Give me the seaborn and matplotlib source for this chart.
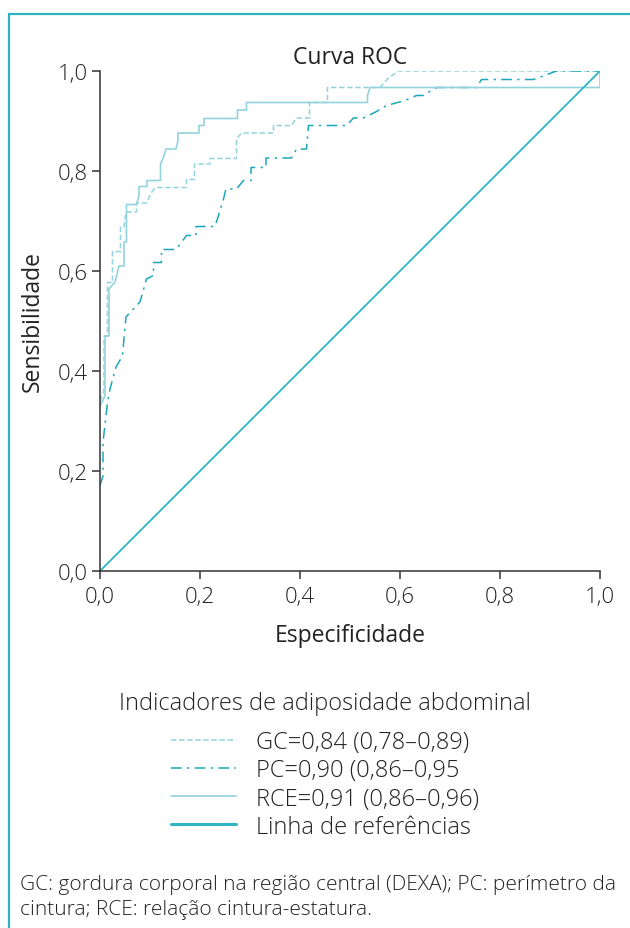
import matplotlib
matplotlib.use("Agg")
import matplotlib.pyplot as plt
import seaborn as sns
import pandas as pd
from matplotlib.lines import Line2D

# curve points (1 - specificity, sensitivity)
gc_x = [0, 0.008, 0.008, 0.015, 0.015, 0.025, 0.025, 0.041, 0.041, 0.048, 0.052, 0.073, 0.073,
        0.093, 0.103, 0.111, 0.173, 0.173, 0.189, 0.189, 0.22, 0.22, 0.273, 0.273, 0.283, 0.347,
        0.347, 0.383, 0.393, 0.419, 0.419, 0.455, 0.455, 0.56, 0.575, 0.597, 1.0]
gc_y = [0.34, 0.36, 0.47, 0.47, 0.577, 0.577, 0.639, 0.639, 0.688, 0.688, 0.718, 0.718, 0.736,
        0.736, 0.757, 0.767, 0.767, 0.783, 0.783, 0.814, 0.814, 0.825, 0.825, 0.864, 0.876, 0.876,
        0.891, 0.891, 0.906, 0.906, 0.937, 0.937, 0.967, 0.967, 0.984, 1.0, 1.0]

pc_x = [0, 0.006, 0.006, 0.015, 0.02, 0.032, 0.045, 0.049, 0.052, 0.08, 0.093, 0.107, 0.107,
        0.123, 0.123, 0.152, 0.173, 0.192, 0.192, 0.23, 0.237, 0.247, 0.252, 0.273, 0.287, 0.302,
        0.302, 0.332, 0.332, 0.383, 0.393, 0.413, 0.417, 0.493, 0.507, 0.527, 0.553, 0.573, 0.61,
        0.633, 0.646, 0.673, 0.753, 0.763, 0.867, 0.897, 0.913, 1.0]
pc_y = [0.171, 0.19, 0.257, 0.337, 0.364, 0.408, 0.43, 0.477, 0.508, 0.538, 0.584, 0.591, 0.617,
        0.617, 0.643, 0.643, 0.671, 0.671, 0.689, 0.689, 0.711, 0.744, 0.764, 0.764, 0.781, 0.781,
        0.807, 0.807, 0.826, 0.826, 0.844, 0.844, 0.891, 0.891, 0.906, 0.906, 0.919, 0.931, 0.941,
        0.951, 0.951, 0.967, 0.967, 0.983, 0.983, 0.994, 1.0, 1.0]

rce_x = [0, 0.01, 0.01, 0.018, 0.018, 0.03, 0.038, 0.048, 0.048, 0.053, 0.053, 0.073, 0.078,
         0.078, 0.094, 0.094, 0.121, 0.121, 0.127, 0.132, 0.152, 0.156, 0.156, 0.198, 0.198, 0.208,
         0.208, 0.275, 0.275, 0.293, 0.293, 0.535, 0.535, 0.54, 1.0, 1.0]
rce_y = [0.33, 0.35, 0.47, 0.47, 0.564, 0.578, 0.61, 0.61, 0.658, 0.658, 0.733, 0.733, 0.751,
         0.769, 0.769, 0.781, 0.781, 0.814, 0.828, 0.844, 0.844, 0.861, 0.876, 0.876, 0.891, 0.891,
         0.905, 0.905, 0.922, 0.922, 0.937, 0.937, 0.951, 0.967, 0.967, 1.0]

ref_x = [0, 1]
ref_y = [0, 1]

labels = ["GC=0,84 (0,78–0,89)", "PC=0,90 (0,86–0,95", "RCE=0,91 (0,86–0,96)", "Linha de referências"]
ticks = [0, 0.2, 0.4, 0.6, 0.8, 1.0]
tick_labels = ["0,0", "0,2", "0,4", "0,6", "0,8", "1,0"]

sns.set_style("ticks")
plt.rcParams['font.family'] = ['Open Sans', 'DejaVu Sans']
plt.rcParams['font.weight'] = 'light'
plt.rcParams['text.color'] = '#222222'
plt.rcParams['axes.labelcolor'] = '#222222'
plt.rcParams['xtick.color'] = '#222222'
plt.rcParams['ytick.color'] = '#222222'

fig = plt.figure(figsize=(6.3, 9.29), dpi=100)
ax = fig.add_axes([0.1587, 0.3843, 0.7937, 0.5382])

light = '#93d3dd'
dark = '#1ba8b9'
refc = '#2db5c6'
fs = 16.5

sns.lineplot(data=pd.DataFrame({'x': gc_x, 'y': gc_y}), x='x', y='y', sort=False, estimator=None,
             color=light, linewidth=1.1, linestyle=(0, (3.5, 1.8)), ax=ax)
sns.lineplot(data=pd.DataFrame({'x': pc_x, 'y': pc_y}), x='x', y='y', sort=False, estimator=None,
             color=dark, linewidth=1.1, linestyle=(0, (7, 3.5, 1.5, 3.5)), ax=ax)
sns.lineplot(data=pd.DataFrame({'x': rce_x, 'y': rce_y}), x='x', y='y', sort=False, estimator=None,
             color=light, linewidth=1.2, ax=ax)
sns.lineplot(x=ref_x, y=ref_y, color=refc, linewidth=1.3, ax=ax)

ax.set_xlim(0, 1.0)
ax.set_ylim(0, 1.0)
ax.set_xticks(ticks)
ax.set_xticklabels(tick_labels)
ax.set_yticks(ticks)
ax.set_yticklabels(tick_labels)
ax.tick_params(labelsize=16, length=6, width=1.1, color='#333333')
ax.tick_params(axis='x', pad=5)
ax.tick_params(axis='y', pad=3)
for s in ['left', 'bottom']:
    ax.spines[s].set_color('#333333')
    ax.spines[s].set_linewidth(1.1)
sns.despine(ax=ax)

ax.set_title("Curva ROC", fontsize=fs, pad=6)
ax.set_xlabel("Especificidade", fontsize=fs, labelpad=11)
ax.set_ylabel("Sensibilidade", fontsize=fs, labelpad=9)

# legend title as its own text, then the entries
fig.text(0.516, 1 - 704 / 929, "Indicadores de adiposidade abdominal", fontsize=17,
         ha='center', va='center')

handles = [
    Line2D([], [], color=light, linewidth=1.1, linestyle=(0, (3.5, 1.8))),
    Line2D([], [], color=dark, linewidth=1.1, linestyle=(0, (7, 3.5, 1.5, 3.5))),
    Line2D([], [], color=light, linewidth=1.2),
    Line2D([], [], color=refc, linewidth=2.2),
]
leg = ax.legend(handles, labels, loc='upper center', bbox_to_anchor=(0.516, 0.2357),
                bbox_transform=fig.transFigure, frameon=False, fontsize=17,
                handlelength=2.75, handletextpad=0.85, labelspacing=0.175)

fig.text(0.0317, 0.034, "GC: gordura corporal na região central (DEXA); PC: perímetro da\n"
         "cintura; RCE: relação cintura-estatura.", fontsize=15, va='center', linespacing=1.3)

# frame lines on top and left
fig.add_artist(Line2D([9 / 630, 1], [1 - 15 / 929, 1 - 15 / 929], color='#2fb3c3', linewidth=1.6))
fig.add_artist(Line2D([9 / 630, 9 / 630], [0, 1 - 15 / 929], color='#2fb3c3', linewidth=1.6))

fig.savefig("out.png", dpi=100)
